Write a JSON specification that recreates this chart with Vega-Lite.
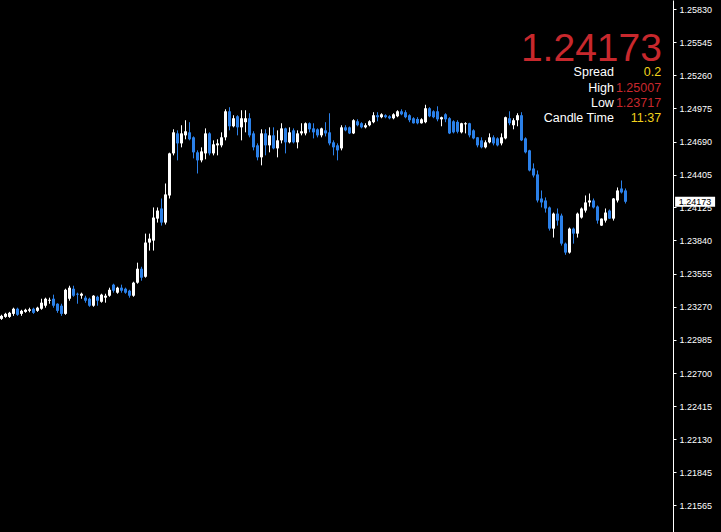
{
"$schema": "https://vega.github.io/schema/vega-lite/v6.json",
"width": 673, "height": 532, "padding": {"left": 0, "top": 0, "right": 48, "bottom": 0}, "autosize": {"type": "none"},
"background": "#000000",
"config": {"view": {"stroke": null}, "text": {"font": "Liberation Sans"},
  "axisY": {"labelOverlap": false, "labelFlush": false, "labelBound": false, "tickCount": 40}},
"data": {"values": [
{"i":0,"o":1.23166,"h":1.23201,"l":1.23157,"c":1.23192},
{"i":1,"o":1.23183,"h":1.23218,"l":1.23175,"c":1.23209},
{"i":2,"o":1.23183,"h":1.23226,"l":1.23175,"c":1.23218},
{"i":3,"o":1.23209,"h":1.23262,"l":1.23192,"c":1.23253},
{"i":4,"o":1.23253,"h":1.23262,"l":1.23192,"c":1.23201},
{"i":5,"o":1.23209,"h":1.23244,"l":1.23192,"c":1.23235},
{"i":6,"o":1.23226,"h":1.23253,"l":1.23218,"c":1.23244},
{"i":7,"o":1.23235,"h":1.23262,"l":1.23222,"c":1.23248},
{"i":8,"o":1.23253,"h":1.23262,"l":1.23209,"c":1.23218},
{"i":9,"o":1.23235,"h":1.2327,"l":1.23226,"c":1.23262},
{"i":10,"o":1.23253,"h":1.23339,"l":1.23244,"c":1.23305},
{"i":11,"o":1.23279,"h":1.23348,"l":1.23262,"c":1.23339},
{"i":12,"o":1.23322,"h":1.23348,"l":1.23296,"c":1.2333},
{"i":13,"o":1.23339,"h":1.23374,"l":1.23262,"c":1.23279},
{"i":14,"o":1.23296,"h":1.233,"l":1.23218,"c":1.23235},
{"i":15,"o":1.23279,"h":1.23296,"l":1.23192,"c":1.23209},
{"i":16,"o":1.23209,"h":1.23425,"l":1.23201,"c":1.23416},
{"i":17,"o":1.23339,"h":1.23451,"l":1.23322,"c":1.23434},
{"i":18,"o":1.23425,"h":1.23451,"l":1.23356,"c":1.23365},
{"i":19,"o":1.23382,"h":1.23391,"l":1.23296,"c":1.23374},
{"i":20,"o":1.23365,"h":1.23391,"l":1.23339,"c":1.23382},
{"i":21,"o":1.23348,"h":1.23365,"l":1.23305,"c":1.23322},
{"i":22,"o":1.23339,"h":1.23348,"l":1.2327,"c":1.23279},
{"i":23,"o":1.23279,"h":1.2337,"l":1.2327,"c":1.23365},
{"i":24,"o":1.23356,"h":1.23365,"l":1.23279,"c":1.23322},
{"i":25,"o":1.23313,"h":1.23382,"l":1.23305,"c":1.23374},
{"i":26,"o":1.23348,"h":1.23382,"l":1.23305,"c":1.23365},
{"i":27,"o":1.23365,"h":1.23434,"l":1.23356,"c":1.23416},
{"i":28,"o":1.2346,"h":1.23468,"l":1.23391,"c":1.23408},
{"i":29,"o":1.23391,"h":1.23442,"l":1.23382,"c":1.23434},
{"i":30,"o":1.23434,"h":1.2346,"l":1.23391,"c":1.23408},
{"i":31,"o":1.23425,"h":1.23434,"l":1.23382,"c":1.23391},
{"i":32,"o":1.23408,"h":1.23416,"l":1.23348,"c":1.23365},
{"i":33,"o":1.23365,"h":1.23485,"l":1.23356,"c":1.23477},
{"i":34,"o":1.23477,"h":1.23649,"l":1.23468,"c":1.23597},
{"i":35,"o":1.23597,"h":1.23614,"l":1.23494,"c":1.2352},
{"i":36,"o":1.23528,"h":1.23899,"l":1.2352,"c":1.23822},
{"i":37,"o":1.23822,"h":1.23899,"l":1.23753,"c":1.23856},
{"i":38,"o":1.23839,"h":1.24124,"l":1.23753,"c":1.24037},
{"i":39,"o":1.24028,"h":1.24124,"l":1.23994,"c":1.24097},
{"i":40,"o":1.24115,"h":1.24201,"l":1.23968,"c":1.23994},
{"i":41,"o":1.23994,"h":1.2433,"l":1.23977,"c":1.24236},
{"i":42,"o":1.24227,"h":1.24595,"l":1.24201,"c":1.24589},
{"i":43,"o":1.24589,"h":1.24796,"l":1.24572,"c":1.2477},
{"i":44,"o":1.24761,"h":1.24787,"l":1.24529,"c":1.24675},
{"i":45,"o":1.24675,"h":1.24831,"l":1.24641,"c":1.24761},
{"i":46,"o":1.24744,"h":1.24874,"l":1.2471,"c":1.24779},
{"i":47,"o":1.2477,"h":1.24857,"l":1.24701,"c":1.2471},
{"i":48,"o":1.24727,"h":1.24735,"l":1.24546,"c":1.24598},
{"i":49,"o":1.24598,"h":1.24615,"l":1.24416,"c":1.24529},
{"i":50,"o":1.24529,"h":1.24641,"l":1.24512,"c":1.24606},
{"i":51,"o":1.24589,"h":1.24804,"l":1.24538,"c":1.24761},
{"i":52,"o":1.24761,"h":1.2477,"l":1.24572,"c":1.24589},
{"i":53,"o":1.24589,"h":1.24701,"l":1.24572,"c":1.24667},
{"i":54,"o":1.24658,"h":1.2471,"l":1.24572,"c":1.24675},
{"i":55,"o":1.24658,"h":1.2477,"l":1.24641,"c":1.24727},
{"i":56,"o":1.24727,"h":1.24968,"l":1.24701,"c":1.24951},
{"i":57,"o":1.24951,"h":1.24986,"l":1.24787,"c":1.24822},
{"i":58,"o":1.24822,"h":1.24917,"l":1.24813,"c":1.24891},
{"i":59,"o":1.24908,"h":1.24917,"l":1.24744,"c":1.24813},
{"i":60,"o":1.24813,"h":1.2496,"l":1.24701,"c":1.24891},
{"i":61,"o":1.24857,"h":1.2496,"l":1.2477,"c":1.24891},
{"i":62,"o":1.24891,"h":1.24934,"l":1.24727,"c":1.24744},
{"i":63,"o":1.24761,"h":1.24779,"l":1.24615,"c":1.24641},
{"i":64,"o":1.24658,"h":1.24675,"l":1.24529,"c":1.24555},
{"i":65,"o":1.24555,"h":1.24796,"l":1.24486,"c":1.24761},
{"i":66,"o":1.24761,"h":1.24796,"l":1.24572,"c":1.24658},
{"i":67,"o":1.24658,"h":1.24813,"l":1.24598,"c":1.24744},
{"i":68,"o":1.24744,"h":1.24813,"l":1.24624,"c":1.24632},
{"i":69,"o":1.24632,"h":1.24787,"l":1.24555,"c":1.24701},
{"i":70,"o":1.24701,"h":1.24848,"l":1.24675,"c":1.24804},
{"i":71,"o":1.24804,"h":1.2481,"l":1.24589,"c":1.24684},
{"i":72,"o":1.24684,"h":1.24813,"l":1.24675,"c":1.2477},
{"i":73,"o":1.24787,"h":1.24804,"l":1.24675,"c":1.24684},
{"i":74,"o":1.24684,"h":1.24787,"l":1.24632,"c":1.24761},
{"i":75,"o":1.24761,"h":1.24848,"l":1.24744,"c":1.24779},
{"i":76,"o":1.24761,"h":1.24855,"l":1.24744,"c":1.24848},
{"i":77,"o":1.24848,"h":1.24855,"l":1.2477,"c":1.24796},
{"i":78,"o":1.24804,"h":1.24848,"l":1.24718,"c":1.2477},
{"i":79,"o":1.24796,"h":1.24804,"l":1.24727,"c":1.24744},
{"i":80,"o":1.24744,"h":1.2481,"l":1.24727,"c":1.24804},
{"i":81,"o":1.24787,"h":1.24857,"l":1.24735,"c":1.24761},
{"i":82,"o":1.2477,"h":1.24934,"l":1.24658,"c":1.24675},
{"i":83,"o":1.24684,"h":1.24701,"l":1.24572,"c":1.24641},
{"i":84,"o":1.24658,"h":1.24675,"l":1.24529,"c":1.24615},
{"i":85,"o":1.24632,"h":1.24831,"l":1.24615,"c":1.24813},
{"i":86,"o":1.24813,"h":1.24831,"l":1.24779,"c":1.24787},
{"i":87,"o":1.24813,"h":1.2482,"l":1.24755,"c":1.24761},
{"i":88,"o":1.24761,"h":1.24882,"l":1.24755,"c":1.24874},
{"i":89,"o":1.24865,"h":1.24882,"l":1.24822,"c":1.24831},
{"i":90,"o":1.24848,"h":1.24857,"l":1.24804,"c":1.24813},
{"i":91,"o":1.24813,"h":1.24848,"l":1.24804,"c":1.24831},
{"i":92,"o":1.24831,"h":1.24874,"l":1.24822,"c":1.24865},
{"i":93,"o":1.24857,"h":1.24943,"l":1.24848,"c":1.24917},
{"i":94,"o":1.24917,"h":1.24943,"l":1.24865,"c":1.249},
{"i":95,"o":1.249,"h":1.24934,"l":1.24891,"c":1.24925},
{"i":96,"o":1.24917,"h":1.24925,"l":1.24891,"c":1.249},
{"i":97,"o":1.24908,"h":1.24917,"l":1.24882,"c":1.24891},
{"i":98,"o":1.24891,"h":1.24934,"l":1.24882,"c":1.24925},
{"i":99,"o":1.24908,"h":1.2496,"l":1.249,"c":1.24951},
{"i":100,"o":1.24951,"h":1.24968,"l":1.24917,"c":1.24925},
{"i":101,"o":1.24943,"h":1.2496,"l":1.24891,"c":1.249},
{"i":102,"o":1.24917,"h":1.24925,"l":1.24857,"c":1.24874},
{"i":103,"o":1.24891,"h":1.249,"l":1.24845,"c":1.24848},
{"i":104,"o":1.24885,"h":1.249,"l":1.24839,"c":1.24848},
{"i":105,"o":1.24848,"h":1.24891,"l":1.24845,"c":1.24882},
{"i":106,"o":1.24857,"h":1.25007,"l":1.24848,"c":1.24977},
{"i":107,"o":1.24977,"h":1.24986,"l":1.249,"c":1.24908},
{"i":108,"o":1.24951,"h":1.2496,"l":1.24891,"c":1.249},
{"i":109,"o":1.24951,"h":1.24994,"l":1.24865,"c":1.24882},
{"i":110,"o":1.24882,"h":1.24905,"l":1.24822,"c":1.249},
{"i":111,"o":1.24925,"h":1.24934,"l":1.24857,"c":1.24882},
{"i":112,"o":1.24891,"h":1.249,"l":1.24755,"c":1.24761},
{"i":113,"o":1.24865,"h":1.24874,"l":1.24761,"c":1.2477},
{"i":114,"o":1.2486,"h":1.24874,"l":1.24761,"c":1.24775},
{"i":115,"o":1.2477,"h":1.24852,"l":1.24761,"c":1.24848},
{"i":116,"o":1.24839,"h":1.24857,"l":1.24761,"c":1.24848},
{"i":117,"o":1.24848,"h":1.24852,"l":1.24727,"c":1.24744},
{"i":118,"o":1.24787,"h":1.24796,"l":1.2471,"c":1.24718},
{"i":119,"o":1.24727,"h":1.2473,"l":1.24641,"c":1.24658},
{"i":120,"o":1.24701,"h":1.24727,"l":1.24632,"c":1.24641},
{"i":121,"o":1.24641,"h":1.24701,"l":1.24632,"c":1.24684},
{"i":122,"o":1.24684,"h":1.24761,"l":1.24675,"c":1.24727},
{"i":123,"o":1.24727,"h":1.24744,"l":1.24658,"c":1.24675},
{"i":124,"o":1.24718,"h":1.24727,"l":1.24649,"c":1.24658},
{"i":125,"o":1.24675,"h":1.24761,"l":1.24658,"c":1.24727},
{"i":126,"o":1.24718,"h":1.24905,"l":1.2471,"c":1.249},
{"i":127,"o":1.24891,"h":1.24951,"l":1.24831,"c":1.24848},
{"i":128,"o":1.24831,"h":1.24891,"l":1.24796,"c":1.24874},
{"i":129,"o":1.24874,"h":1.24934,"l":1.24822,"c":1.24917},
{"i":130,"o":1.24917,"h":1.24943,"l":1.24695,"c":1.24701},
{"i":131,"o":1.24718,"h":1.24727,"l":1.24589,"c":1.24598},
{"i":132,"o":1.24615,"h":1.2462,"l":1.24434,"c":1.24442},
{"i":133,"o":1.24459,"h":1.24503,"l":1.24382,"c":1.24399},
{"i":134,"o":1.24408,"h":1.24442,"l":1.24167,"c":1.24184},
{"i":135,"o":1.24201,"h":1.2427,"l":1.24124,"c":1.24167},
{"i":136,"o":1.24184,"h":1.2421,"l":1.2408,"c":1.24115},
{"i":137,"o":1.24124,"h":1.24132,"l":1.23925,"c":1.23942},
{"i":138,"o":1.23942,"h":1.2408,"l":1.23865,"c":1.24071},
{"i":139,"o":1.24071,"h":1.24115,"l":1.23968,"c":1.24011},
{"i":140,"o":1.24054,"h":1.24071,"l":1.23796,"c":1.23813},
{"i":141,"o":1.23813,"h":1.23822,"l":1.23717,"c":1.23736},
{"i":142,"o":1.23736,"h":1.23951,"l":1.23727,"c":1.23942},
{"i":143,"o":1.23942,"h":1.23951,"l":1.23813,"c":1.23899},
{"i":144,"o":1.23899,"h":1.2408,"l":1.23865,"c":1.24071},
{"i":145,"o":1.24037,"h":1.24124,"l":1.24028,"c":1.24115},
{"i":146,"o":1.24097,"h":1.24227,"l":1.2408,"c":1.24167},
{"i":147,"o":1.24167,"h":1.24244,"l":1.24132,"c":1.24184},
{"i":148,"o":1.24184,"h":1.24201,"l":1.24115,"c":1.24124},
{"i":149,"o":1.24132,"h":1.24141,"l":1.23985,"c":1.24011},
{"i":150,"o":1.23968,"h":1.2403,"l":1.23965,"c":1.24028},
{"i":151,"o":1.24011,"h":1.24115,"l":1.23994,"c":1.2408},
{"i":152,"o":1.24097,"h":1.24106,"l":1.24025,"c":1.24028},
{"i":153,"o":1.24028,"h":1.24205,"l":1.24011,"c":1.24201},
{"i":154,"o":1.24184,"h":1.24296,"l":1.24167,"c":1.2427},
{"i":155,"o":1.24287,"h":1.24356,"l":1.24244,"c":1.24253},
{"i":156,"o":1.2427,"h":1.24287,"l":1.24158,"c":1.24173}
]},
"layer": [
{"mark": {"type": "rule", "strokeWidth": 1},
 "encoding": {
  "x": {"field": "i", "type": "quantitative", "scale": {"domain": [-0.375, 167.875], "nice": false, "zero": false, "padding": 0}, "axis": null},
  "y": {"field": "l", "type": "quantitative", "scale": {"domain": [1.21333, 1.25908], "nice": false, "zero": false, "padding": 0},
        "axis": {"orient": "right", "title": null, "grid": false, "format": ".5f", "tickCount": 40,
                 "values": [1.21565, 1.21845, 1.2213, 1.22415, 1.227, 1.22985, 1.2327, 1.23555, 1.2384, 1.24125, 1.24405, 1.2469, 1.24975, 1.2526, 1.25545, 1.2583],
                 "domainColor": "#ffffff", "tickColor": "#ffffff", "tickSize": 3, "labelColor": "#ffffff",
                 "labelFont": "Liberation Sans", "labelFontSize": 9, "labelPadding": 3, "labelFlush": false, "labelOverlap": false}},
  "y2": {"field": "h"},
  "color": {"condition": {"test": "datum.c >= datum.o", "value": "#ffffff"}, "value": "#2b80e8"}
 }},
{"mark": {"type": "bar", "width": 3},
 "encoding": {
  "x": {"field": "i", "type": "quantitative", "axis": null},
  "y": {"field": "o", "type": "quantitative",
        "axis": {"orient": "right", "title": null, "grid": false, "format": ".5f", "tickCount": 40,
                 "values": [1.21565, 1.21845, 1.2213, 1.22415, 1.227, 1.22985, 1.2327, 1.23555, 1.2384, 1.24125, 1.24405, 1.2469, 1.24975, 1.2526, 1.25545, 1.2583],
                 "domainColor": "#ffffff", "tickColor": "#ffffff", "tickSize": 3, "labelColor": "#ffffff",
                 "labelFont": "Liberation Sans", "labelFontSize": 9, "labelPadding": 3, "labelFlush": false, "labelOverlap": false}},
  "y2": {"field": "c"},
  "color": {"condition": {"test": "datum.c >= datum.o", "value": "#ffffff"}, "value": "#2b80e8"}
 }},
{"data": {"values": [{"t": "1.24173"}]},
 "mark": {"type": "rect", "color": "#ffffff"},
 "encoding": {"x": {"datum": 168.4}, "x2": {"datum": 178.4}, "y": {"datum": 1.24216}, "y2": {"datum": 1.2413}}},
{"data": {"values": [{"t": "1.24173"}]},
 "mark": {"type": "text", "align": "center", "baseline": "middle", "fontSize": 9, "color": "#000000"},
 "encoding": {"x": {"datum": 173.4}, "y": {"datum": 1.24173}, "text": {"field": "t"}}},
{"data": {"values": [{"t": "1.24173"}]},
 "mark": {"type": "text", "align": "right", "baseline": "alphabetic", "fontSize": 39, "color": "#c8282d"},
 "encoding": {"x": {"datum": 165.1}, "y": {"datum": 1.253834}, "text": {"field": "t"}}},
{"data": {"values": [{"t": "Spread"}]},
 "mark": {"type": "text", "align": "right", "baseline": "alphabetic", "fontSize": 12.5, "color": "#ffffff"},
 "encoding": {"x": {"datum": 153.1}, "y": {"datum": 1.252544}, "text": {"field": "t"}}},
{"data": {"values": [{"t": "0.2"}]},
 "mark": {"type": "text", "align": "right", "baseline": "alphabetic", "fontSize": 12.5, "color": "#f2d21c"},
 "encoding": {"x": {"datum": 164.9}, "y": {"datum": 1.252544}, "text": {"field": "t"}}},
{"data": {"values": [{"t": "High"}]},
 "mark": {"type": "text", "align": "right", "baseline": "alphabetic", "fontSize": 12.5, "color": "#ffffff"},
 "encoding": {"x": {"datum": 153.1}, "y": {"datum": 1.251211}, "text": {"field": "t"}}},
{"data": {"values": [{"t": "1.25007"}]},
 "mark": {"type": "text", "align": "right", "baseline": "alphabetic", "fontSize": 12.5, "color": "#c8282d"},
 "encoding": {"x": {"datum": 164.9}, "y": {"datum": 1.251211}, "text": {"field": "t"}}},
{"data": {"values": [{"t": "Low"}]},
 "mark": {"type": "text", "align": "right", "baseline": "alphabetic", "fontSize": 12.5, "color": "#ffffff"},
 "encoding": {"x": {"datum": 153.1}, "y": {"datum": 1.249921}, "text": {"field": "t"}}},
{"data": {"values": [{"t": "1.23717"}]},
 "mark": {"type": "text", "align": "right", "baseline": "alphabetic", "fontSize": 12.5, "color": "#c8282d"},
 "encoding": {"x": {"datum": 164.9}, "y": {"datum": 1.249921}, "text": {"field": "t"}}},
{"data": {"values": [{"t": "Candle Time"}]},
 "mark": {"type": "text", "align": "right", "baseline": "alphabetic", "fontSize": 12.5, "color": "#ffffff"},
 "encoding": {"x": {"datum": 153.1}, "y": {"datum": 1.248631}, "text": {"field": "t"}}},
{"data": {"values": [{"t": "11:37"}]},
 "mark": {"type": "text", "align": "right", "baseline": "alphabetic", "fontSize": 12.5, "color": "#f2d21c"},
 "encoding": {"x": {"datum": 164.9}, "y": {"datum": 1.248631}, "text": {"field": "t"}}}
]
}
